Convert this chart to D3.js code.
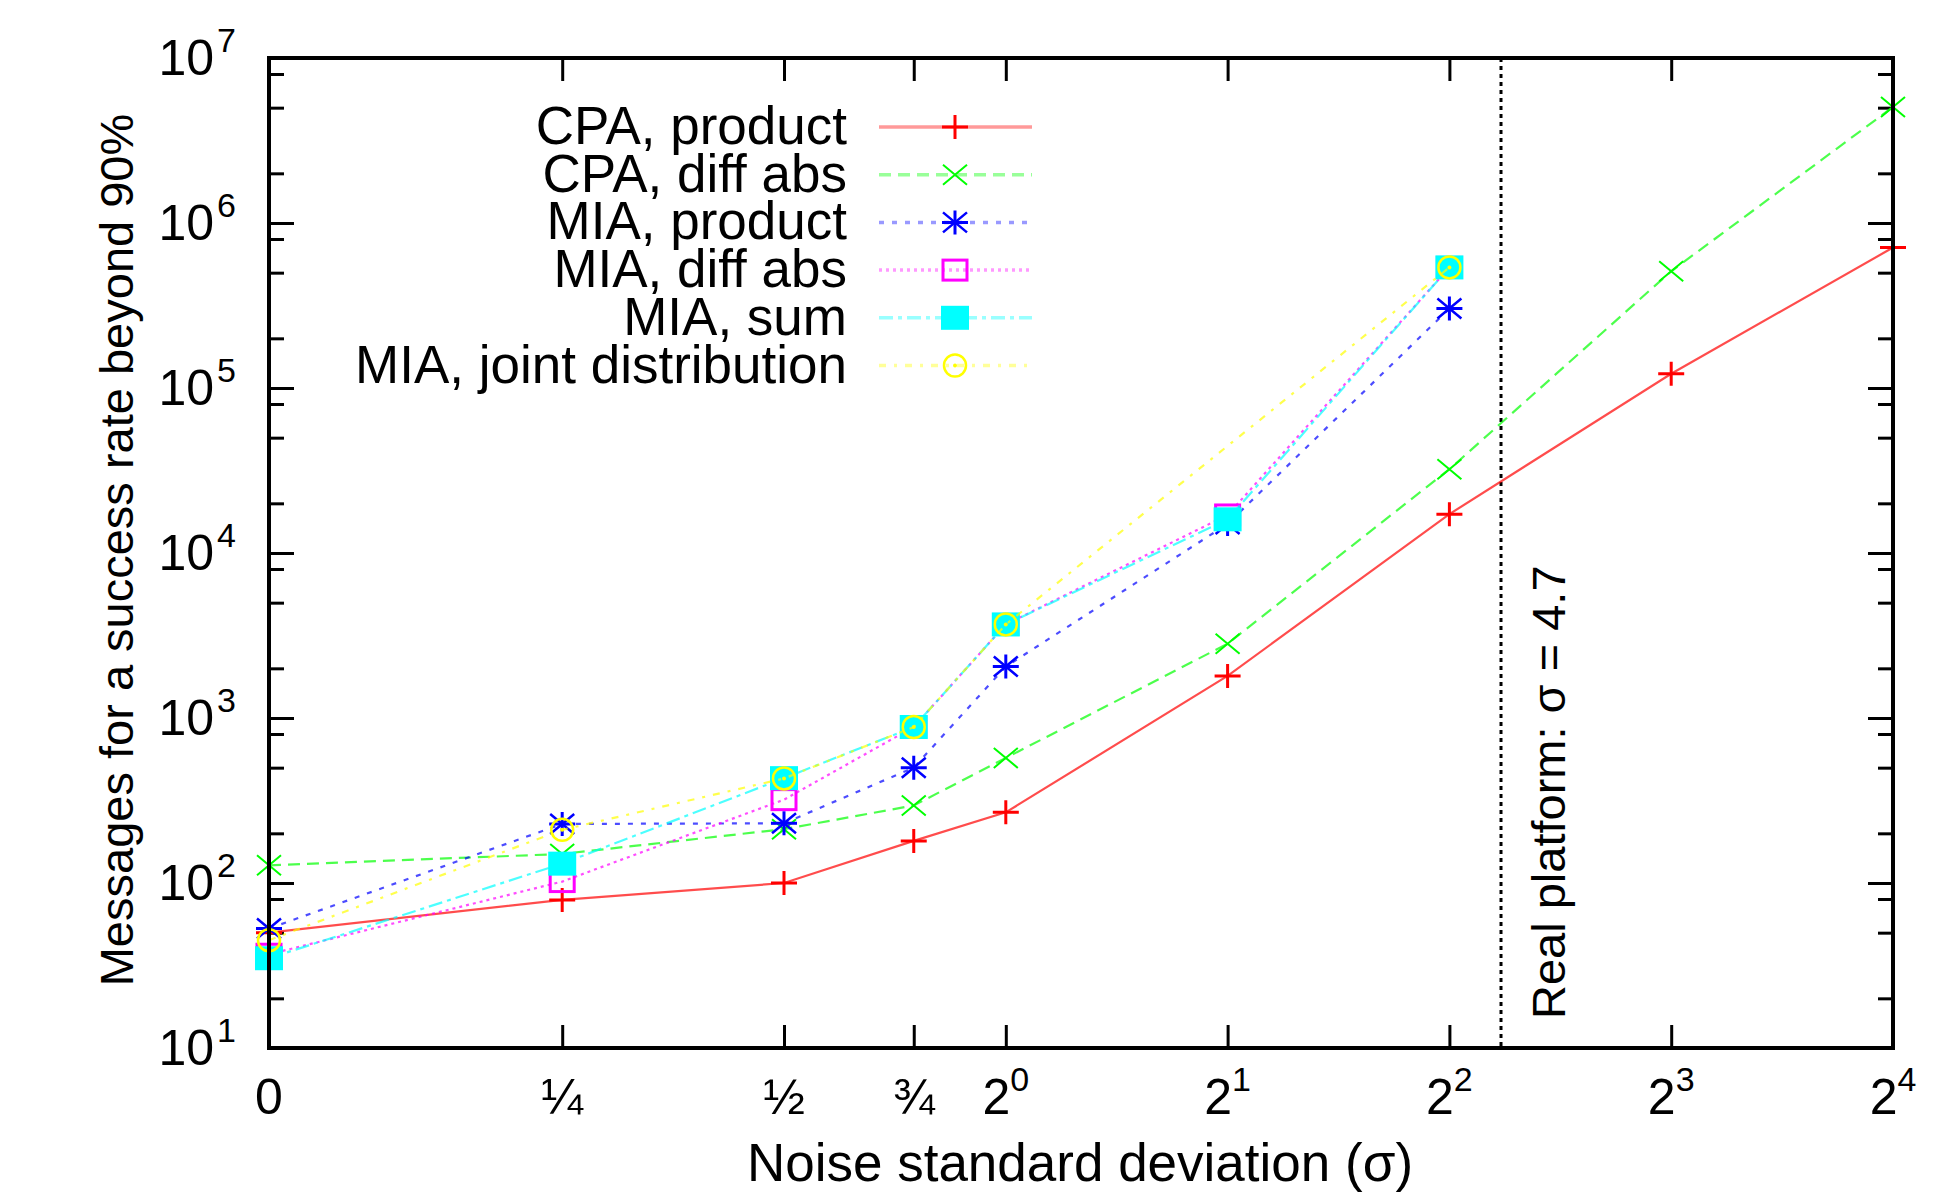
<!DOCTYPE html>
<html>
<head>
<meta charset="utf-8">
<script src="https://cdn.jsdelivr.net/npm/d3@7"></script>
<style>
  body { margin: 0; background: #fff; }
  text { font-family: "Liberation Sans", Arial, sans-serif; fill: #000; }
</style>
</head>
<body>
<svg id="chart" width="1936" height="1197"></svg>
<script>
// noise levels (sigma) shown on the x axis
const sigmas = [0, 0.25, 0.5, 0.75, 1, 2, 4, 8, 16];
const sigmaLabels = [['0', ''], ['¼', ''], ['½', ''], ['¾', ''], ['2', '0'], ['2', '1'], ['2', '2'], ['2', '3'], ['2', '4']];
const yExponents = [1, 2, 3, 4, 5, 6, 7];
const minorMultiples = [2, 5, 8];

// messages needed for 90% success rate
const cpaProduct = [50, 79, 100, 180, 268, 1800, 17200, 122000, 710000];
const cpaDiffAbs = [128, 150, 212, 295, 573, 2820, 32200, 510000, 5050000];
const miaSigmas = [0, 0.25, 0.5, 0.75, 1, 2, 4];
const miaProduct = [53, 228, 230, 500, 2050, 15000, 303000];
const miaDiffAbs = [37, 102, 320, 882, 3690, 17000, 538000];
const miaSum = [35, 131, 432, 882, 3690, 16000, 538000];
const jointSigmas = [0, 0.25, 0.5, 0.75, 1, 4];
const miaJoint = [45, 210, 430, 882, 3690, 538000];
const realSigma = 4.7;

const series = [
  { name: 'CPA, product', xs: sigmas, ys: cpaProduct, color: '#ff0000', dash: null, marker: 'plus' },
  { name: 'CPA, diff abs', xs: sigmas, ys: cpaDiffAbs, color: '#00ff00', dash: '12,7', marker: 'cross' },
  { name: 'MIA, product', xs: miaSigmas, ys: miaProduct, color: '#0000ff', dash: '5,8', marker: 'star' },
  { name: 'MIA, diff abs', xs: miaSigmas, ys: miaDiffAbs, color: '#ff00ff', dash: '3,4', marker: 'box' },
  { name: 'MIA, sum', xs: miaSigmas, ys: miaSum, color: '#00ffff', dash: '14,5,4,5', marker: 'fbox' },
  { name: 'MIA, joint distribution', xs: jointSigmas, ys: miaJoint, color: '#ffff00', dash: '7,8,3,8', marker: 'circle' }
];

const margin = { top: 58, right: 43, bottom: 149, left: 269 };
const W = 1936, H = 1197;
const width = W - margin.left - margin.right;
const height = H - margin.top - margin.bottom;
const zeroAt = 0.1; // sigma = 0 sits where 0.1 would be on the log2 axis

const svg = d3.select('#chart');
svg.append('rect').attr('width', W).attr('height', H).attr('fill', '#fff');
const g = svg.append('g').attr('transform', `translate(${margin.left},${margin.top})`);

const x = d3.scaleLog().base(2).domain([zeroAt, 16]).range([0, width]);
const y = d3.scaleLog().domain([10, 1e7]).range([height, 0]);
const xPos = s => x(s === 0 ? zeroAt : s);

// ticks (all drawn inward, mirrored on opposite sides)
const xTickVals = sigmas.map(s => (s === 0 ? zeroAt : s));
const yMajor = yExponents.map(e => Math.pow(10, e));
const yMinor = [];
yExponents.slice(0, -1).forEach(e => minorMultiples.forEach(m => yMinor.push(m * Math.pow(10, e))));

function tickAxis(axis, tf) {
  const a = g.append('g').attr('transform', tf || null).call(axis);
  a.select('.domain').remove();
  a.selectAll('.tick line').attr('stroke', '#000').attr('stroke-width', 3);
  a.selectAll('.tick text').remove();
  return a;
}
tickAxis(d3.axisBottom(x).tickValues(xTickVals).tickSize(-23), `translate(0,${height})`);
tickAxis(d3.axisTop(x).tickValues(xTickVals).tickSize(-23));
tickAxis(d3.axisLeft(y).tickValues(yMajor).tickSize(-25));
tickAxis(d3.axisLeft(y).tickValues(yMinor).tickSize(-15));
tickAxis(d3.axisRight(y).tickValues(yMajor).tickSize(-25), `translate(${width},0)`);
tickAxis(d3.axisRight(y).tickValues(yMinor).tickSize(-15), `translate(${width},0)`);

// y tick labels 10^n
yExponents.forEach(e => {
  g.append('text')
    .attr('x', -55).attr('y', y(Math.pow(10, e)) + 17)
    .attr('text-anchor', 'end').style('font-size', '50px').text('10');
  g.append('text')
    .attr('x', -52).attr('y', y(Math.pow(10, e)) - 6)
    .style('font-size', '34px').text(e);
});

// x tick labels
sigmas.forEach((s, i) => {
  const t = g.append('text')
    .attr('x', xPos(s)).attr('y', height + 66)
    .attr('text-anchor', 'middle').style('font-size', '50px');
  t.append('tspan').text(sigmaLabels[i][0]);
  if (sigmaLabels[i][1]) {
    t.append('tspan').attr('dy', -23).style('font-size', '34px').text(sigmaLabels[i][1]);
  }
});

// axis titles
svg.append('text')
  .attr('x', 1080).attr('y', 1181)
  .attr('text-anchor', 'middle').style('font-size', '53px')
  .text('Noise standard deviation (σ)');
svg.append('text')
  .attr('transform', 'translate(133,550) rotate(-90)')
  .attr('text-anchor', 'middle').style('font-size', '47px')
  .text('Messages for a success rate beyond 90%');

// real platform marker line
g.append('line')
  .attr('x1', x(realSigma)).attr('x2', x(realSigma))
  .attr('y1', 0).attr('y2', height)
  .attr('stroke', '#000').attr('stroke-width', 3).attr('stroke-dasharray', '4,4');
g.append('text')
  .attr('transform', `translate(${x(realSigma) + 64},${height - 29}) rotate(-90)`)
  .style('font-size', '47px')
  .text('Real platform: σ = 4.7');

// markers
function drawMarker(sel, type, color) {
  const sw = 3;
  if (type === 'plus' || type === 'star') {
    sel.append('path').attr('d', 'M-13,0H13M0,-12V12').attr('stroke', color).attr('stroke-width', sw).attr('fill', 'none');
  }
  if (type === 'cross' || type === 'star') {
    sel.append('path').attr('d', 'M-12,-10L12,10M-12,10L12,-10').attr('stroke', color).attr('stroke-width', type === 'star' ? 2.5 : 2).attr('fill', 'none');
  }
  if (type === 'box') {
    sel.append('rect').attr('x', -12).attr('y', -10).attr('width', 24).attr('height', 20)
      .attr('fill', 'none').attr('stroke', color).attr('stroke-width', sw);
  }
  if (type === 'fbox') {
    sel.append('rect').attr('x', -14).attr('y', -12).attr('width', 28).attr('height', 24).attr('fill', color);
  }
  if (type === 'circle') {
    sel.append('circle').attr('r', 11).attr('fill', 'none').attr('stroke', color).attr('stroke-width', 2.5);
    sel.append('circle').attr('r', 2).attr('fill', color);
  }
}

const line = d3.line().x(d => xPos(d[0])).y(d => y(d[1]));
series.forEach(s => {
  const pts = s.xs.map((v, i) => [v, s.ys[i]]);
  g.append('path').datum(pts)
    .attr('d', line).attr('fill', 'none')
    .attr('stroke', s.color).attr('stroke-width', 2.2).attr('stroke-opacity', 0.7)
    .attr('stroke-dasharray', s.dash);
  g.selectAll(null).data(pts).enter().append('g')
    .attr('transform', d => `translate(${xPos(d[0])},${y(d[1])})`)
    .each(function () { drawMarker(d3.select(this), s.marker, s.color); });
});

// legend
const legend = svg.append('g');
series.forEach((s, i) => {
  const ly = 127 + i * 47.7;
  legend.append('text')
    .attr('x', 847).attr('y', ly + 17)
    .attr('text-anchor', 'end').style('font-size', '53px').text(s.name);
  legend.append('line')
    .attr('x1', 879).attr('x2', 1032).attr('y1', ly).attr('y2', ly)
    .attr('stroke', s.color).attr('stroke-width', 3.5).attr('stroke-opacity', 0.4)
    .attr('stroke-dasharray', s.dash);
  drawMarker(legend.append('g').attr('transform', `translate(955,${ly})`), s.marker, s.color);
});

// plot border
g.append('rect').attr('width', width).attr('height', height)
  .attr('fill', 'none').attr('stroke', '#000').attr('stroke-width', 4);
</script>
</body>
</html>
